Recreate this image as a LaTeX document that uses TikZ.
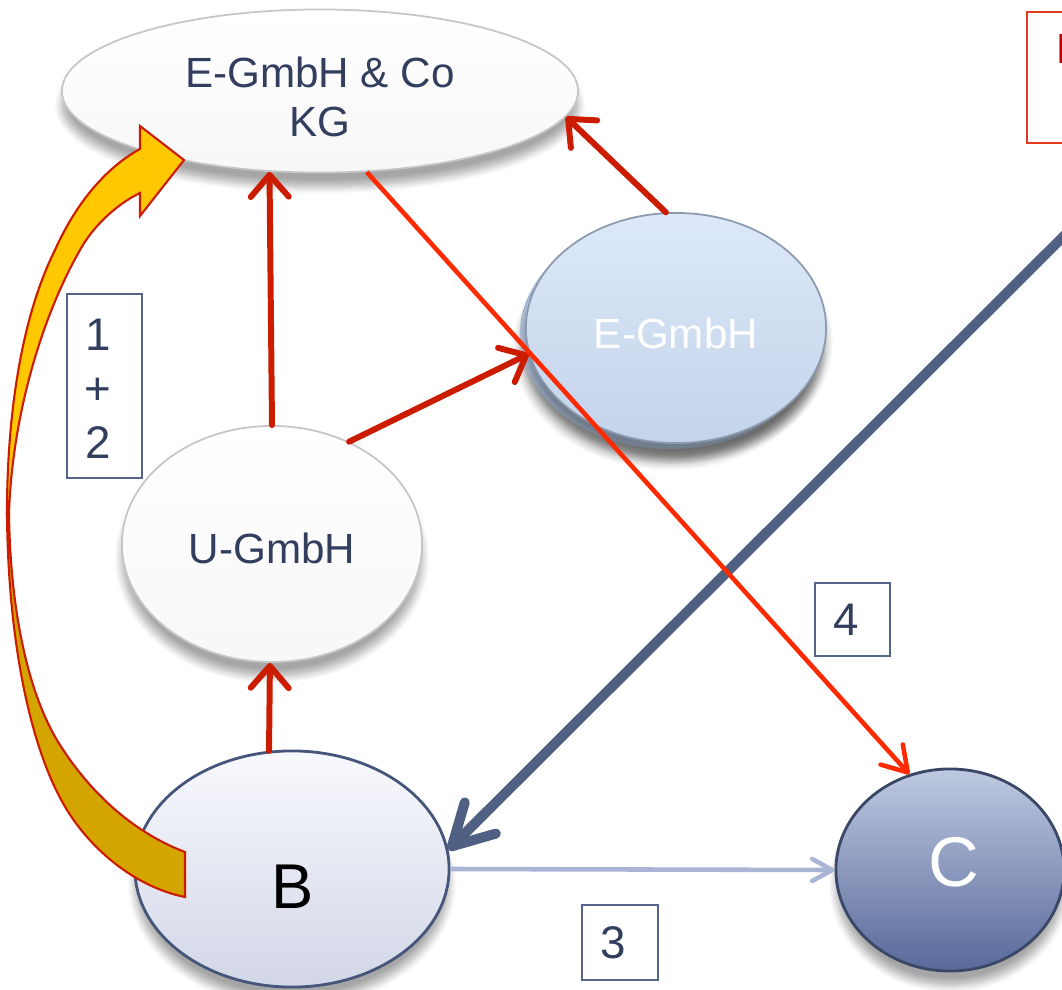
\documentclass[tikz,border=0pt]{standalone}
\usepackage{fontspec}
\setmainfont{Liberation Sans}
\usetikzlibrary{arrows.meta,shapes.geometric,shadows.blur}

\definecolor{navy}{HTML}{323E5E}
\definecolor{boxline}{HTML}{56658A}
\definecolor{dred}{HTML}{CC1C00}
\definecolor{bred}{HTML}{FF2A00}
\definecolor{steel}{HTML}{4F6082}
\definecolor{lblue}{HTML}{A8B5D4}
\definecolor{gold}{HTML}{FFC800}
\definecolor{dgold}{HTML}{D4A500}
\definecolor{notered}{HTML}{E23A1E}
\definecolor{notetext}{HTML}{C00000}
\definecolor{egtop}{HTML}{DDE9F9}
\definecolor{egbot}{HTML}{C3D3EA}
\definecolor{egback}{HTML}{AFC0DA}
\definecolor{btop}{HTML}{F8F9FD}
\definecolor{bbot}{HTML}{D2D7E7}
\definecolor{bline}{HTML}{46557A}
\definecolor{ctop}{HTML}{BFC9E1}
\definecolor{cbot}{HTML}{58699A}
\definecolor{cline}{HTML}{3A4766}

\tikzset{
  ell/.style={ellipse, inner sep=0pt,
    blur shadow={shadow xshift=0pt, shadow yshift=-4pt, shadow blur steps=8, shadow opacity=35}},
  whiteell/.style={ell, draw=gray!45, line width=0.5pt, top color=white, bottom color=gray!6, text=navy},
  blueell/.style={ell, draw=egback!80!black, line width=0.5pt, top color=egtop, bottom color=egbot, text=white},
  bell/.style={ell, draw=bline, line width=0.8pt, top color=btop, bottom color=bbot, text=black},
  cell/.style={ell, draw=cline, line width=0.8pt, top color=ctop, bottom color=cbot, text=white},
  numbox/.style={draw=boxline, line width=0.45pt, inner sep=0pt, text=navy, align=center, font=\fontsize{13}{15.4}\selectfont},
  numtext/.style={text=navy, align=center, font=\fontsize{13}{15.4}\selectfont, xshift=-0.065cm},
  redarrow/.style={draw=dred, line width=1.7pt, line cap=round, -{Straight Barb[length=0.22cm, width=0.38cm, round]}},
  thinred/.style={draw=bred, line width=1.3pt, -{Straight Barb[length=0.24cm, width=0.3cm, round]}},
  thickblue/.style={draw=steel, line width=2.85pt, -{Straight Barb[length=0.4cm, width=0.44cm, round]}},
  lightblue/.style={draw=lblue, line width=1.3pt, -{Straight Barb[length=0.2cm, width=0.22cm, round]}},
  yellowpart/.style={draw=dred, line width=0.6pt, line join=miter}
}

\begin{document}
\begin{tikzpicture}[x=0.01cm, y=-0.01cm, font=\fontsize{12}{14}\selectfont]
\useasboundingbox (0,0) rectangle (1062,990);

% note box at top right (cut off)
\node[draw=notered, line width=0.6pt, minimum width=1.73cm, minimum height=1.31cm, inner sep=0pt] (note) at (1113.5,77.5) {};
\node[anchor=base west, inner sep=0pt, text=notetext] (notetxt) at (1056,63) {E};

% ellipses
\node[whiteell, minimum width=5.16cm, minimum height=1.63cm,
      label={[align=center, text=navy, yshift=-0.06cm]center:{E-GmbH \& Co\\KG}}] (top) at (320,91) {};
\node[ell, fill=egback, draw=none, minimum width=3cm, minimum height=2.3cm] (egb) at (670,334) {};
\node[blueell, minimum width=3cm, minimum height=2.3cm,
      label={[text=white, yshift=-0.05cm]center:E-GmbH}] (eg) at (676,328) {};
\node[whiteell, minimum width=3cm, minimum height=2.36cm,
      label={[text=navy, yshift=-0.04cm]center:U-GmbH}] (ug) at (272,544) {};
\node[bell, minimum width=3.14cm, minimum height=2.36cm,
      label={[text=black, font=\fontsize{18}{20}\selectfont, yshift=-0.18cm, xshift=0.01cm]center:B}] (b) at (292,869) {};
\node[cell, minimum width=2.28cm, minimum height=2.02cm,
      label={[text=white, font=\fontsize{20}{22}\selectfont, yshift=0.08cm, xshift=0.04cm]center:C}] (c) at (950,870) {};

% number boxes
\node[numbox, minimum width=0.75cm, minimum height=1.84cm,
      label={[numtext, yshift=-0.03cm]center:{1\\+\\2}}] (n12) at (104.5,386) {};
\node[numbox, minimum width=0.75cm, minimum height=0.73cm,
      label={[numtext]center:4}] (n4) at (852.5,619.5) {};
\node[numbox, minimum width=0.76cm, minimum height=0.75cm,
      label={[numtext]center:3}] (n3) at (620,942.5) {};

% connectors
\coordinate (bluestart) at (1110,190);
\draw[thickblue] (bluestart) -- (b.7);
\draw[lightblue] (b.east) -- (c.west);
\draw[redarrow] (ug.north) -- (top.-122.7);
\draw[redarrow] (ug.53) -- (eg.190.3);
\draw[redarrow] (eg.95.4) -- (top.-6);
\draw[redarrow] (b.101.6) -- (ug.-91);
\draw[thinred] (top.-60.6) -- (c.113);

% curved yellow arrow
\begin{scope}[blur shadow={shadow xshift=2pt, shadow yshift=-2pt, shadow blur steps=6, shadow opacity=25}]
\path[yellowpart, fill=gold] (7,513) .. controls (7,420) and (20,320) .. (55,250)
   .. controls (75,205) and (105,168) .. (140,149)
   -- (140,126) -- (184,160) -- (140,216) -- (140,193)
   .. controls (115,205) and (92,228) .. (80,250)
   .. controls (40,320) and (12,420) .. (9,513) -- cycle;
\path[yellowpart, fill=dgold] (185,852) .. controls (140,835) and (95,800) .. (60,745)
   .. controls (25,690) and (10,600) .. (9,513) -- (7,513)
   .. controls (8,640) and (30,750) .. (67,810)
   .. controls (95,855) and (140,888) .. (185,897) -- cycle;
\end{scope}
\end{tikzpicture}
\end{document}
